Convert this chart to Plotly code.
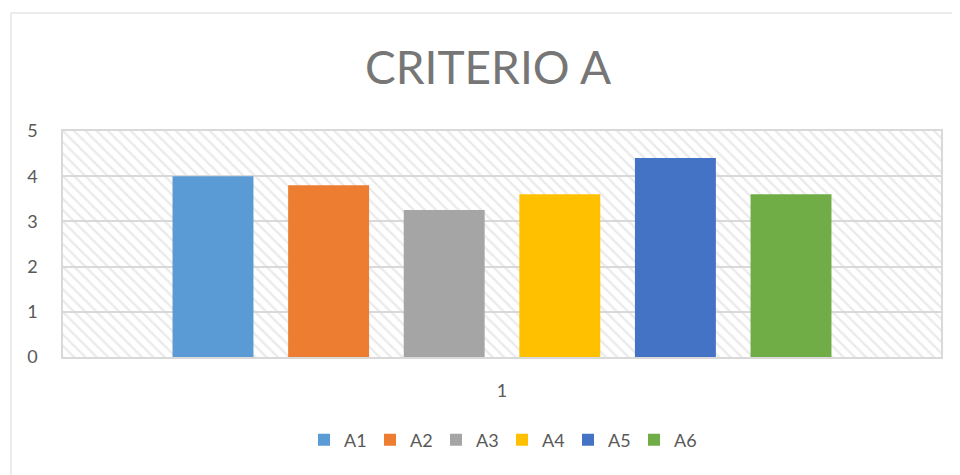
import plotly.graph_objects as go

categories = ["1"]
series_names = ["A1", "A2", "A3", "A4", "A5", "A6"]
series_values = [4.0, 3.8, 3.25, 3.6, 4.4, 3.6]
series_colors = ["#5B9BD5", "#ED7D31", "#A5A5A5", "#FFC000", "#4472C4", "#70AD47"]
y_max = 5

W, H = 960, 475
OFF = 8  # page body margin
L, R, T, B = 63 - OFF, W - (941 - OFF), 131 - OFF, H - (357 - OFF)
pw, ph = W - L - R, H - T - B

fig = go.Figure()

# hatched plot-area background (base axis)
fig.add_trace(go.Bar(
    x=[0.5], y=[y_max], width=[1], xaxis="x", showlegend=False, hoverinfo="skip",
    marker=dict(color="rgba(0,0,0,0)", line=dict(width=0),
                pattern=dict(shape="\\", fgcolor="#d6d6d6", bgcolor="rgba(0,0,0,0)",
                             size=8, solidity=0.3, fillmode="overlay")),
))

for name, val, col in zip(series_names, series_values, series_colors):
    fig.add_trace(go.Bar(x=categories, y=[val], name=name, xaxis="x2",
                         marker=dict(color=col, line=dict(width=0))))

px2x = lambda px: (px - OFF - L) / pw
py2y = lambda py: (H - B - (py - OFF)) / ph

fig.update_layout(
    width=W, height=H,
    margin=dict(l=L, r=R, t=T, b=B, autoexpand=False),
    paper_bgcolor="white", plot_bgcolor="white",
    barmode="group", bargap=0.21, bargroupgap=0.30,
    font=dict(family="Lato, Open Sans, sans-serif", color="#595959", size=18),
    title=dict(text="CRITERIO A", x=0.5, xanchor="center", y=1 - (68 - OFF) / H, yanchor="middle",
               font=dict(size=46, color="#767676", family="Lato, Open Sans, sans-serif")),
    xaxis=dict(range=[0, 1], showgrid=False, showticklabels=False, zeroline=False,
               showline=True, linecolor="#d9d9d9", linewidth=1.5, mirror=True, ticks=""),
    xaxis2=dict(type="category", overlaying="x", side="bottom", showgrid=False, showline=False,
                ticks="outside", ticklen=17, tickcolor="rgba(0,0,0,0)",
                tickfont=dict(size=18, color="#595959")),
    yaxis=dict(range=[0, y_max], dtick=1, showgrid=True, gridcolor="#d9d9d9", gridwidth=1.5,
               showline=True, linecolor="#d9d9d9", linewidth=1.5, mirror=True, zeroline=False,
               ticks="outside", ticklen=20, tickcolor="rgba(0,0,0,0)",
               tickfont=dict(size=18, color="#595959")),
    legend=dict(orientation="h", x=0.5, xanchor="center", y=py2y(440), yanchor="middle",
                font=dict(size=18, color="#595959"), itemsizing="constant", traceorder="normal",
                itemwidth=30, entrywidth=21, entrywidthmode="pixels"),
    shapes=[dict(type="rect", xref="paper", yref="paper",
                 x0=px2x(11), x1=px2x(975), y0=py2y(490), y1=py2y(13),
                 line=dict(color="#d9d9d9", width=1), fillcolor="rgba(0,0,0,0)", layer="below")],
)

fig.write_html("out.html")
